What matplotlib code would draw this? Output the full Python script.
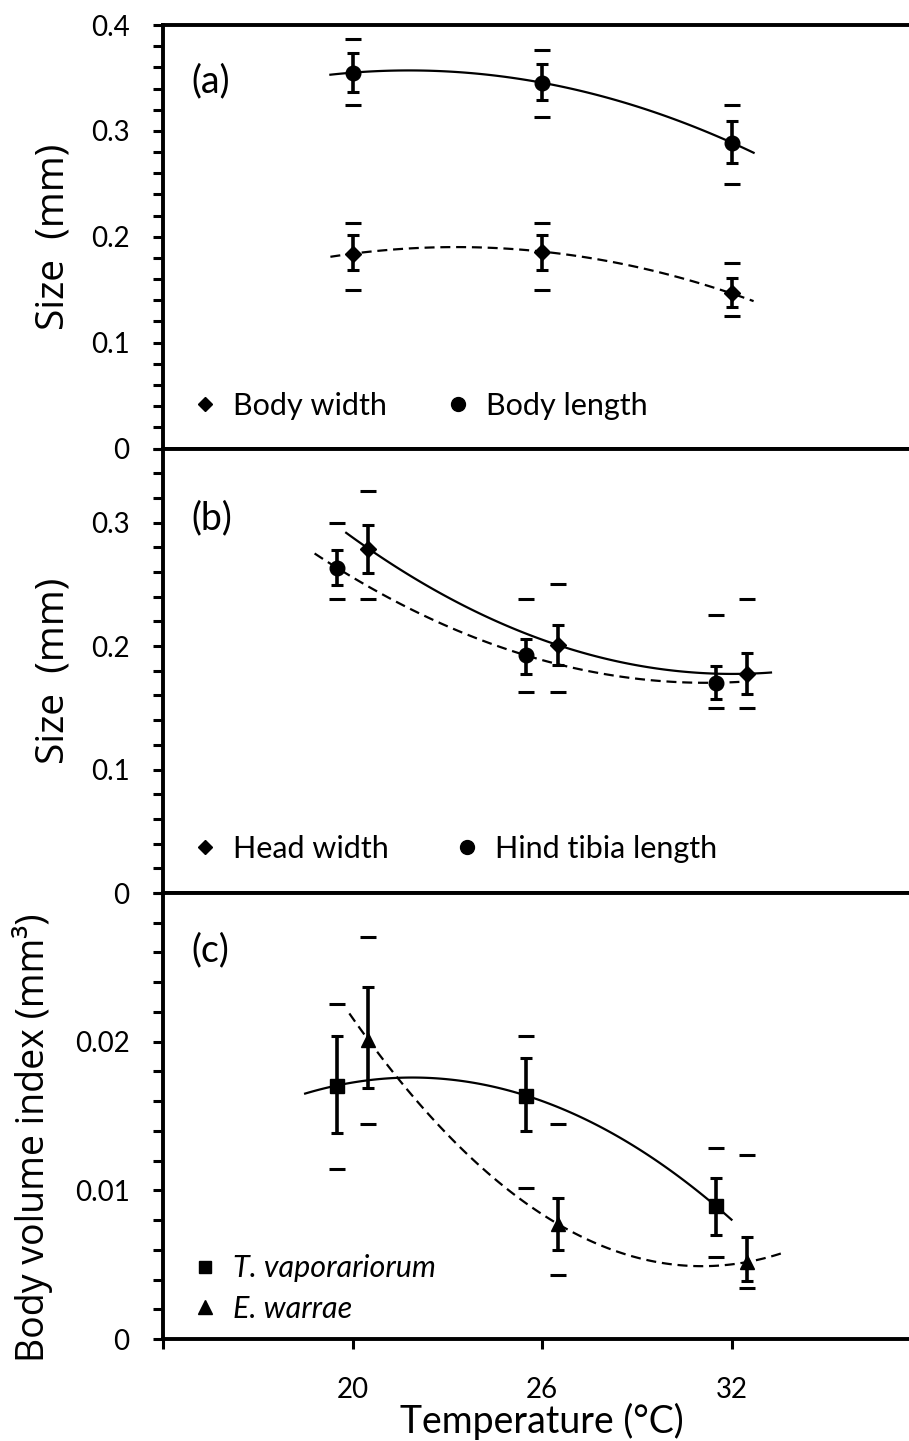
import matplotlib
matplotlib.use('Agg')
import matplotlib.pyplot as plt
import numpy as np
from matplotlib.lines import Line2D
from matplotlib.ticker import MultipleLocator, FixedLocator, FuncFormatter

plt.rcParams['font.family'] = 'Lato'

temps = [20, 26, 32]
x_left = [19.5, 25.5, 31.5]
x_right = [20.5, 26.5, 32.5]

# (a) body length (circles) and body width (diamonds)
a_length = [0.355, 0.3455, 0.289]
a_length_lo = [0.337, 0.329, 0.270]
a_length_hi = [0.374, 0.363, 0.309]
a_length_min = [0.324, 0.313, 0.250]
a_length_max = [0.387, 0.376, 0.324]
a_width = [0.184, 0.186, 0.1465]
a_width_lo = [0.1685, 0.169, 0.134]
a_width_hi = [0.2016, 0.202, 0.161]
a_width_min = [0.1496, 0.150, 0.125]
a_width_max = [0.2126, 0.213, 0.175]

# (b) hind tibia length (circles) and head width (diamonds)
b_tibia = [0.2635, 0.1924, 0.1703]
b_tibia_lo = [0.2495, 0.1776, 0.1568]
b_tibia_hi = [0.278, 0.206, 0.1838]
b_tibia_min = [0.2384, 0.163, 0.150]
b_tibia_max = [0.2995, 0.2384, 0.2249]
b_head = [0.279, 0.2008, 0.1776]
b_head_lo = [0.2595, 0.1843, 0.1608]
b_head_hi = [0.298, 0.2168, 0.194]
b_head_min = [0.2384, 0.163, 0.150]
b_head_max = [0.3257, 0.2505, 0.2384]

# (c) body volume index
c_tv = [0.01705, 0.01637, 0.00895]
c_tv_lo = [0.01383, 0.0140, 0.00699]
c_tv_hi = [0.02036, 0.01891, 0.01086]
c_tv_min = [0.01146, 0.01016, 0.00554]
c_tv_max = [0.02254, 0.02036, 0.01287]
c_ew = [0.02012, 0.00774, 0.00518]
c_ew_lo = [0.01686, 0.00597, 0.00392]
c_ew_hi = [0.02368, 0.00948, 0.00687]
c_ew_min = [0.01449, 0.00433, 0.00343]
c_ew_max = [0.02706, 0.01449, 0.01238]

# extent of the quadratic trend lines
a_fit = (19.3, 32.7)
b_head_fit = (19.8, 33.25)
b_tibia_fit = (18.8, 32.25)
c_tv_fit = (18.5, 32.0)
c_ew_fit = (19.9, 33.6)


def draw_series(ax, x, mean, lo, hi, vmin, vmax, marker, ms, fit, ls):
    m = np.array(mean)
    ax.errorbar(x, m, yerr=[m - np.array(lo), np.array(hi) - m], fmt='none',
                ecolor='black', elinewidth=2.6, capsize=4, capthick=2.2, zorder=2)
    ax.plot(x, vmin, ls='none', marker='_', ms=12, mew=2.2, color='black')
    ax.plot(x, vmax, ls='none', marker='_', ms=12, mew=2.2, color='black')
    ax.plot(x, m, ls='none', marker=marker, ms=ms, color='black', zorder=3)
    coef = np.polyfit(x, m, 2)
    xs = np.linspace(fit[0], fit[1], 120)
    if ls == 'dashed':
        ax.plot(xs, np.polyval(coef, xs), color='black', lw=1.6,
                ls=(0, (4.5, 2.6)), zorder=3)
    else:
        ax.plot(xs, np.polyval(coef, xs), color='black', lw=1.6, zorder=3)


def style_axes(ax, ylim, major, minor, show_x):
    ax.set_xlim(14, 38)
    ax.set_ylim(*ylim)
    ax.xaxis.set_major_locator(FixedLocator([14] + temps))
    ax.xaxis.set_major_formatter(FuncFormatter(lambda v, p: '' if v == 14 else f'{v:g}'))
    ax.yaxis.set_major_locator(FixedLocator(major))
    ax.yaxis.set_minor_locator(MultipleLocator(minor))
    ax.yaxis.set_major_formatter(FuncFormatter(lambda v, p: f'{v:g}'))
    for s in ax.spines.values():
        s.set_linewidth(2.8)
    ax.spines['right'].set_visible(False)
    ax.tick_params(axis='both', which='both', direction='out', length=7, width=2.2,
                   labelsize=20)
    ax.tick_params(axis='y', pad=17)
    ax.tick_params(axis='x', pad=20, labelbottom=show_x)


W, H = 909, 1441
fig = plt.figure(figsize=(W / 100, H / 100), dpi=100)
left = 163 / W
width = 758 / W
ax_a = fig.add_axes([left, 1 - 448.5 / H, width, 423.5 / H])
ax_b = fig.add_axes([left, 1 - 893 / H, width, 444.5 / H])
ax_c = fig.add_axes([left, 1 - 1339 / H, width, 446 / H])

# (a)
draw_series(ax_a, temps, a_length, a_length_lo, a_length_hi, a_length_min, a_length_max,
            'o', 10.5, a_fit, 'solid')
draw_series(ax_a, temps, a_width, a_width_lo, a_width_hi, a_width_min, a_width_max,
            'D', 8, a_fit, 'dashed')
style_axes(ax_a, (0, 0.4), [0, 0.1, 0.2, 0.3, 0.4], 0.02, False)
ax_a.text(0.037, 0.868, '(a)', transform=ax_a.transAxes, fontsize=27, va='center')
ax_a.set_ylabel('Size  (mm)', family='Open Sans', fontsize=28, va='center')
ax_a.yaxis.set_label_coords(-0.145, 0.5)
h = [Line2D([], [], ls='none', marker='D', ms=7.5, color='black'),
     Line2D([], [], ls='none', marker='o', ms=10, color='black')]
ax_a.legend(h, ['Body width', 'Body length'], loc='center left', bbox_to_anchor=(0.0396, 0.10),
            ncol=2, frameon=False, fontsize=22, borderpad=0, borderaxespad=0,
            handlelength=0.8, handletextpad=0.52, columnspacing=1.9)

# (b)
draw_series(ax_b, x_left, b_tibia, b_tibia_lo, b_tibia_hi, b_tibia_min, b_tibia_max,
            'o', 10.5, b_tibia_fit, 'dashed')
draw_series(ax_b, x_right, b_head, b_head_lo, b_head_hi, b_head_min, b_head_max,
            'D', 8, b_head_fit, 'solid')
style_axes(ax_b, (0, 0.36), [0, 0.1, 0.2, 0.3], 0.02, False)
ax_b.text(0.037, 0.842, '(b)', transform=ax_b.transAxes, fontsize=27, va='center')
ax_b.set_ylabel('Size  (mm)', family='Open Sans', fontsize=28, va='center')
ax_b.yaxis.set_label_coords(-0.145, 0.5)
h = [Line2D([], [], ls='none', marker='D', ms=7.5, color='black'),
     Line2D([], [], ls='none', marker='o', ms=10, color='black')]
ax_b.legend(h, ['Head width', 'Hind tibia length'], loc='center left',
            bbox_to_anchor=(0.0396, 0.10), ncol=2, frameon=False, fontsize=22,
            borderpad=0, borderaxespad=0, handlelength=0.8, handletextpad=0.52,
            columnspacing=2.15)

# (c)
draw_series(ax_c, x_left, c_tv, c_tv_lo, c_tv_hi, c_tv_min, c_tv_max,
            's', 10, c_tv_fit, 'solid')
draw_series(ax_c, x_right, c_ew, c_ew_lo, c_ew_hi, c_ew_min, c_ew_max,
            '^', 10.5, c_ew_fit, 'dashed')
style_axes(ax_c, (0, 0.0300), [0, 0.01, 0.02], 0.002, True)
ax_c.text(0.037, 0.872, '(c)', transform=ax_c.transAxes, fontsize=27, va='center')
ax_c.set_ylabel('Body volume index (mm\u00b3)', family='Open Sans', fontsize=27, va='center')
ax_c.yaxis.set_label_coords(-0.172, 0.452)
ax_c.set_xlabel('Temperature (\u00b0C)', fontsize=27, labelpad=0)
h = [Line2D([], [], ls='none', marker='s', ms=9, color='black'),
     Line2D([], [], ls='none', marker='^', ms=9.5, color='black')]
ax_c.legend(h, ['T. vaporariorum', 'E. warrae'], loc='center left',
            bbox_to_anchor=(0.0396, 0.113), frameon=False,
            prop={'family': 'Lato', 'style': 'italic', 'size': 22},
            borderpad=0, borderaxespad=0, handlelength=0.8, handletextpad=0.5,
            labelspacing=0.4)

fig.savefig('out.png', dpi=100)
